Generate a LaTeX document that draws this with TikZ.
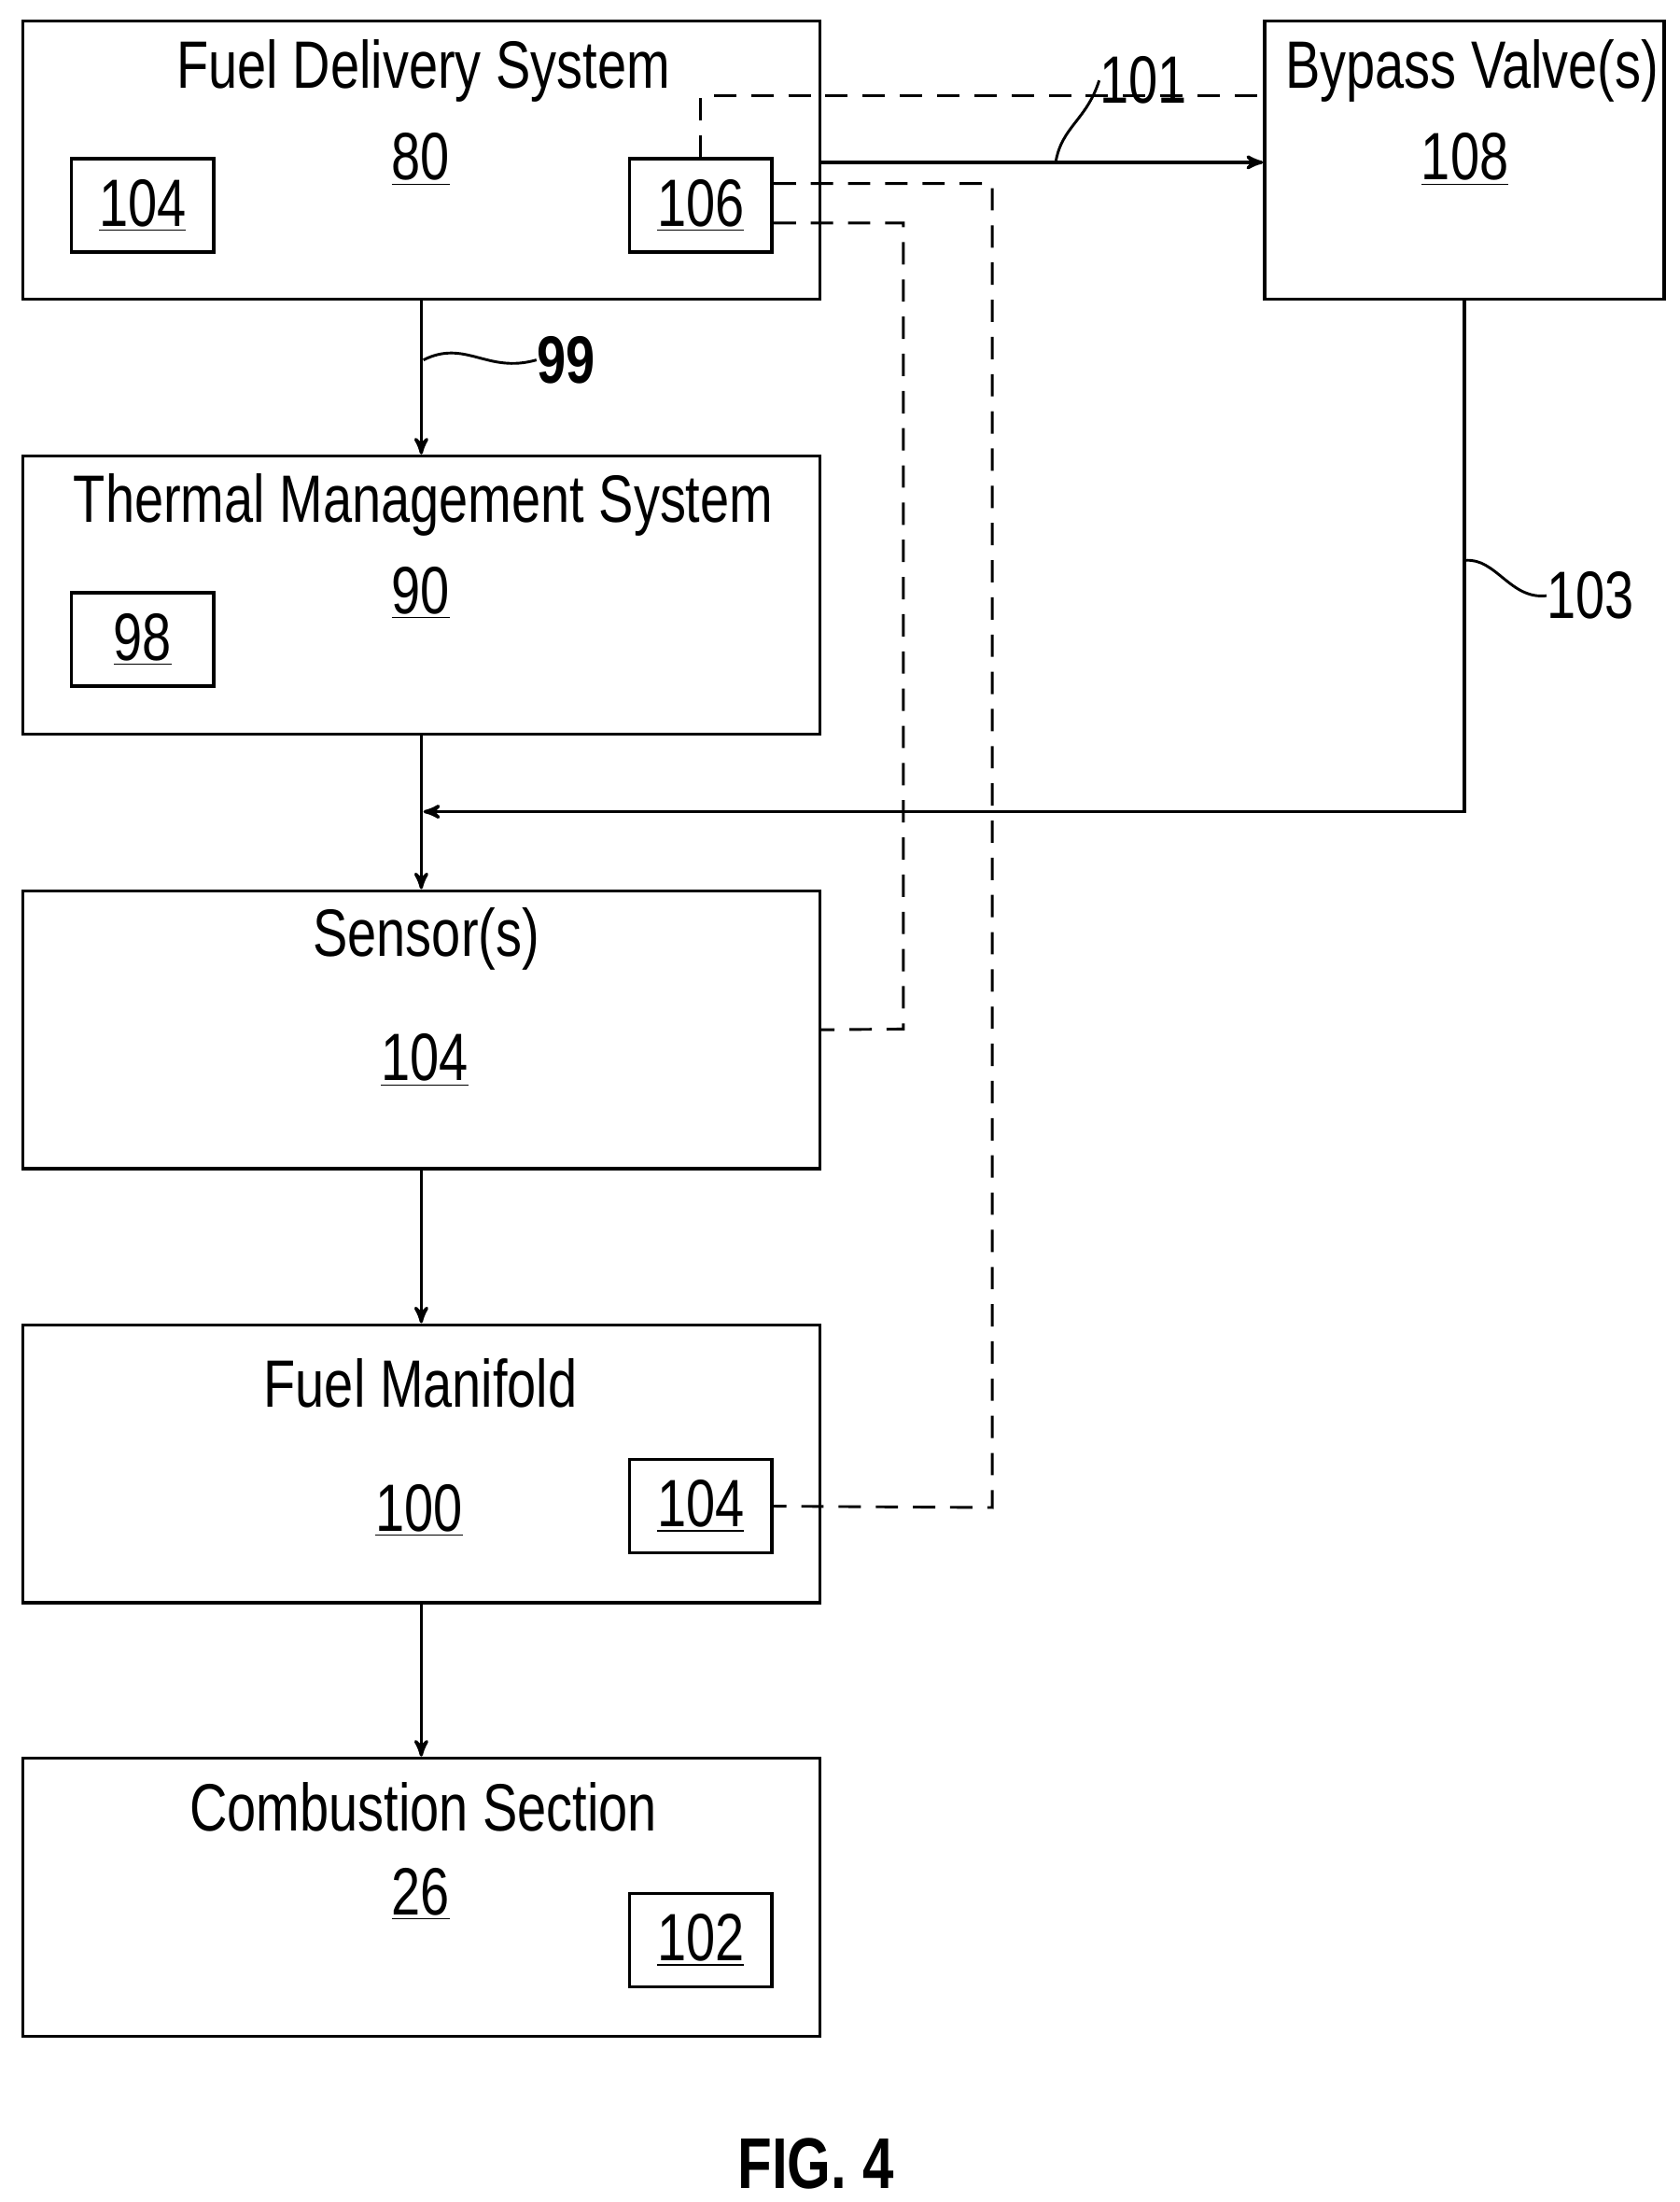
\documentclass[tikz,border=0pt]{standalone}
\usepackage{fontspec}
\setmainfont{Liberation Sans}[FakeStretch=0.78]
\usetikzlibrary{arrows, calc}

\begin{document}
\begin{tikzpicture}[x=0.02cm, y=-0.02cm]
 \tikzstyle{block}=[rectangle, draw, line width=1.3pt, minimum width=11.3cm, minimum height=3.94cm]
 \tikzstyle{small}=[rectangle, draw, line width=1.3pt, minimum width=2.02cm, minimum height=1.32cm, font=\fontsize{27}{30}\selectfont]
 \tikzstyle{txt}=[font=\fontsize{27}{30}\selectfont, inner sep=0pt]
 \tikzstyle{arr}=[-{stealth'[scale=1.8]}, line width=1.3pt]
 \tikzstyle{sig}=[line width=1.1pt, dash pattern=on 9pt off 6pt]
 \tikzstyle{lead}=[line width=1.1pt]

 \useasboundingbox (0,0) rectangle (1190,1560);

 % Blocks
 \node (nfuel) at (298.5,113.5) [block] {};
 \node (nbypass) at (1037.5,113.5) [block, minimum width=5.66cm] {};
 \node (nthermal) at (298.5,421.5) [block] {};
 \node (nsensor) at (298.5,729.5) [block] {};
 \node (nmanifold) at (298.5,1037) [block] {};
 \node (ncombust) at (298.5,1344) [block] {};

 % Titles and numbers
 \node [txt] at (300,50) {Fuel Delivery System};
 \node [txt] at (298,113) {\underline{80}};
 \node [txt] at (1043,50) {Bypass Valve(s)};
 \node [txt] at (1038,113) {\underline{108}};
 \node [txt] at (300,358) {Thermal Management System};
 \node [txt] at (298,420) {\underline{90}};
 \node [txt] at (302,665) {Sensor(s)};
 \node [txt] at (301,751) {\underline{104}};
 \node [txt] at (298,980) {Fuel Manifold};
 \node [txt] at (297,1070) {\underline{100}};
 \node [txt] at (300,1280) {Combustion Section};
 \node [txt] at (298,1342) {\underline{26}};

 % Inner boxes
 \node (nfuelsens) at (101,145.5) [small] {\underline{104}};
 \node (nctrl) at (496.5,145.5) [small] {\underline{106}};
 \node (nexch) at (101,453) [small] {\underline{98}};
 \node (nmansens) at (496.5,1067) [small] {\underline{104}};
 \node (ncomb) at (496.5,1374.5) [small] {\underline{102}};

 % Fuel flow
 \draw [arr] (nfuel.south) -- (nthermal.north);
 \draw [arr] (nthermal.south) -- (nsensor.north);
 \draw [arr] (nsensor.south) -- (nmanifold.north);
 \draw [arr] (nmanifold.south) -- (ncombust.north);
 \draw [arr] (nfuel.east |- 0,115) -- (nbypass.west |- 0,115);
 \coordinate (cjoin) at (300,575);
 \draw [arr] (nbypass.south) |- (cjoin);

 % Signal lines
 \draw [sig] (nctrl.north) |- (nbypass.west |- 0,68);
 \draw [sig] (nctrl.east |- 0,130) -| (703,1068) -- (nmansens.east);
 \draw [sig] (nctrl.east |- 0,158) -| (640,729) -- (nsensor.east);

 % Reference numerals
 \node (n99) [txt, font=\bfseries\fontsize{27}{30}\selectfont] at (401,255) {99};
 \draw [lead] (300,255) .. controls (330,240) and (345,265) .. (n99.west);
 \node (n101) [txt] at (810,57) {101};
 \draw [lead] (748,115) .. controls (752,90) and (770,85) .. (n101.west);
 \node (n103) [txt] at (1127,422) {103};
 \draw [lead] (1038,397) .. controls (1060,395) and (1070,425) .. (n103.west);

 \node [txt, font=\bfseries\fontsize{29}{32}\selectfont] at (578,1533) {FIG. 4};
\end{tikzpicture}
\end{document}
